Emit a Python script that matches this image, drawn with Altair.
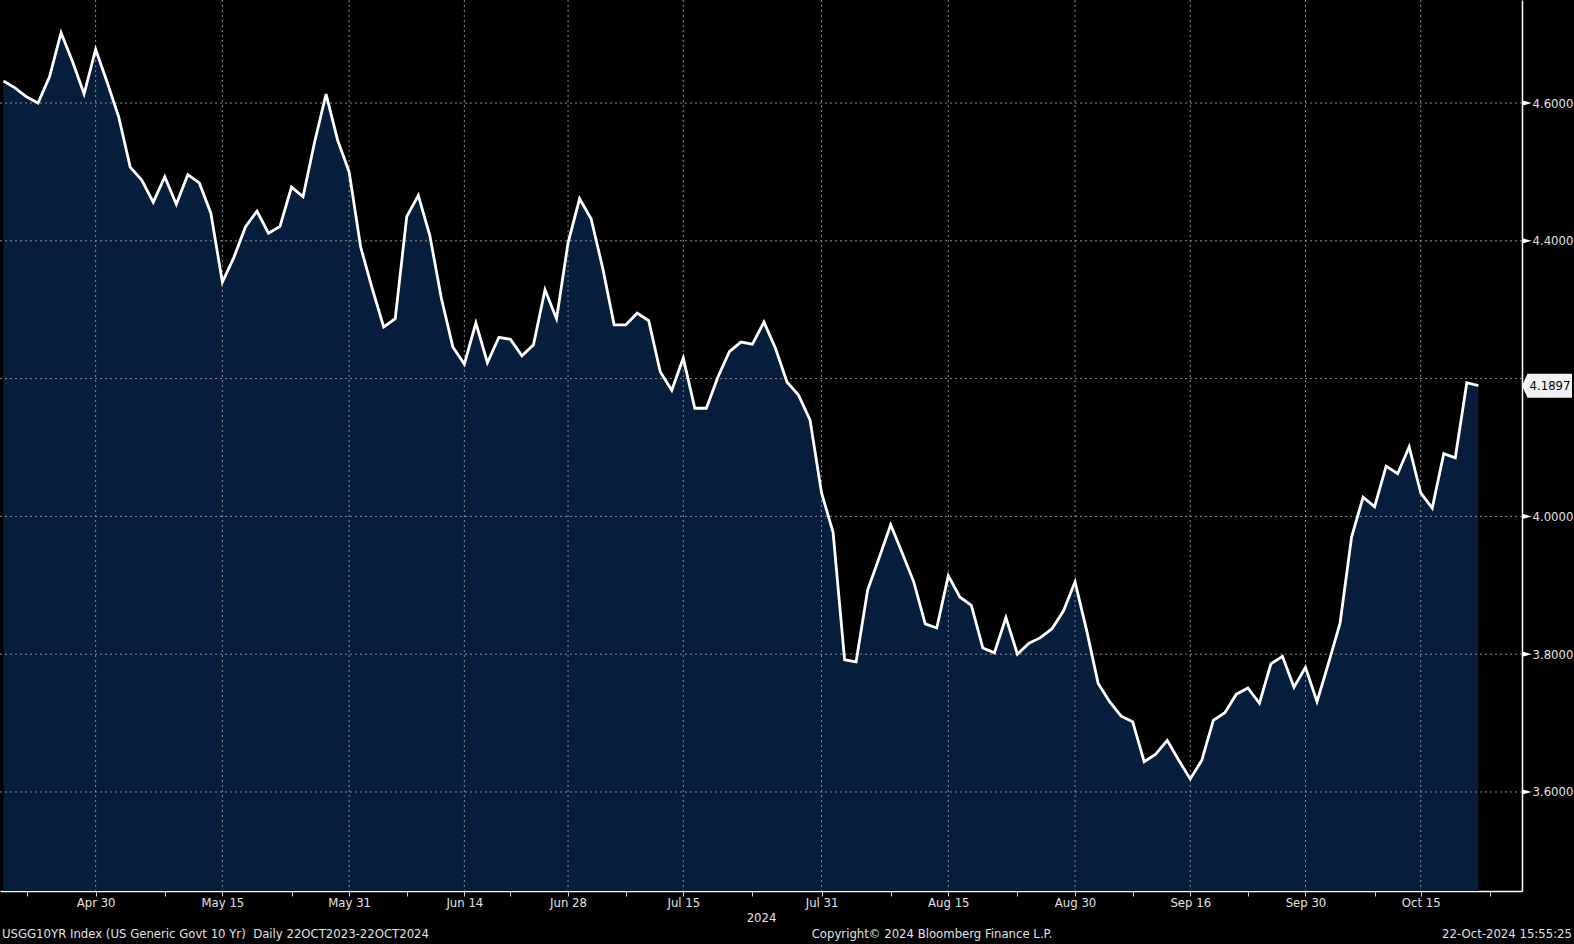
import json
import altair as alt
import pandas as pd

# ---- data (US 10y generic yield, trading days Apr 18 - Oct 22, 2024) ----
YIELDS = [
    4.632, 4.622, 4.609, 4.600, 4.638, 4.702, 4.660, 4.613, 4.678, 4.630,
    4.580, 4.507, 4.488, 4.456, 4.493, 4.453, 4.496, 4.484, 4.440, 4.340,
    4.376, 4.420, 4.443, 4.411, 4.421, 4.478, 4.464, 4.543, 4.613, 4.546,
    4.500, 4.391, 4.331, 4.275, 4.287, 4.435, 4.466, 4.408, 4.317, 4.246,
    4.221, 4.281, 4.223, 4.260, 4.257, 4.233, 4.249, 4.329, 4.287, 4.397,
    4.461, 4.432, 4.361, 4.278, 4.278, 4.295, 4.284, 4.210, 4.183, 4.230,
    4.157, 4.157, 4.202, 4.239, 4.253, 4.250, 4.282, 4.244, 4.195, 4.176,
    4.140, 4.034, 3.977, 3.792, 3.789, 3.893, 3.940, 3.988, 3.947, 3.905,
    3.844, 3.838, 3.914, 3.883, 3.871, 3.809, 3.802, 3.853, 3.800, 3.816,
    3.824, 3.837, 3.863, 3.905, 3.835, 3.758, 3.731, 3.710, 3.702, 3.644,
    3.655, 3.675, 3.646, 3.619, 3.646, 3.704, 3.715, 3.742, 3.751, 3.729,
    3.786, 3.797, 3.752, 3.781, 3.731, 3.787, 3.845, 3.970, 4.028, 4.014,
    4.073, 4.062, 4.101, 4.034, 4.012, 4.091, 4.085, 4.194, 4.1897,
]

# x axis: trading-day index (0 = Apr 18) of the labelled ticks and of the minor ticks
X_MAJOR_POS = [8, 19, 30, 40, 49, 59, 71, 82, 93, 103, 113, 123]
X_MAJOR_LABELS = ["Apr 30", "May 15", "May 31", "Jun 14", "Jun 28", "Jul 15",
                  "Jul 31", "Aug 15", "Aug 30", "Sep 16", "Sep 30", "Oct 15"]
X_MINOR_POS = [2, 14, 25, 35, 44, 54, 65, 77, 88, 98, 108, 119, 129]
X_DOMAIN = [-0.3, 131.79]

Y_GRID = [3.6, 3.8, 4.0, 4.2, 4.4, 4.6]
Y_LABELED = [3.6, 3.8, 4.0, 4.4, 4.6]
Y_DOMAIN = [3.4563, 4.7495]

LAST_VALUE = 4.1897
X_TITLE = "2024"
FOOT_LEFT = "USGG10YR Index (US Generic Govt 10 Yr)\u00a0 Daily 22OCT2023-22OCT2024"
FOOT_CENTER = "Copyright\u00a9 2024 Bloomberg Finance L.P."
FOOT_RIGHT = "22-Oct-2024 15:55:25"

# ---- styling ----
FONT = '"DejaVu Sans Condensed", "Liberation Sans", sans-serif'
FS = 13
TXT = "#e2e2e2"
NAVY = "#061e3b"
GRID = "#8c8c8c"
W, H = 1522, 891

df = pd.DataFrame({"i": list(range(len(YIELDS))), "y": YIELDS})

xs = alt.Scale(domain=X_DOMAIN, nice=False, zero=False)
ys = alt.Scale(domain=Y_DOMAIN, nice=False, zero=False)

x_label_expr = "indexof({p}, datum.value) >= 0 ? {l}[indexof({p}, datum.value)] : ''".format(
    p=json.dumps(X_MAJOR_POS), l=json.dumps(X_MAJOR_LABELS))
y_label_expr = "indexof({p}, datum.value) >= 0 ? format(datum.value, '.4f') : ''".format(
    p=json.dumps(Y_LABELED))

x_axis = alt.Axis(
    values=X_MAJOR_POS + X_MINOR_POS, labelExpr=x_label_expr, grid=False,
    domainColor="white", domainWidth=1.5, tickColor="#d0d0d0", tickSize=5, tickWidth=1,
    labelColor=TXT, labelFont=FONT, labelFontSize=FS, labelPadding=0,
    labelOverlap=False, labelFlush=False,
    title=X_TITLE, titleColor=TXT, titleFont=FONT, titleFontSize=FS, titleFontWeight="normal",
    titleY=30.5, titleBaseline="alphabetic", titleAlign="center",
)
y_axis = alt.Axis(
    orient="right", values=Y_GRID, labelExpr=y_label_expr, grid=False,
    domainColor="white", domainWidth=1.5, ticks=False, labelPadding=10,
    labelColor=TXT, labelFont=FONT, labelFontSize=FS, labelBaseline="middle", title=None,
)

X = lambda f: alt.X(f, scale=xs, axis=x_axis)
Y = lambda f: alt.Y(f, scale=ys, axis=y_axis)

area = alt.Chart(df).mark_area(color=NAVY, opacity=1, interpolate="linear").encode(
    x=X("i:Q"), y=Y("y:Q"), y2=alt.datum(Y_DOMAIN[0]),
)

grid_h = alt.Chart(pd.DataFrame({"v": Y_GRID})).mark_rule(
    color=GRID, strokeDash=[2, 3], strokeWidth=1).encode(y=Y("v:Q"))
grid_v = alt.Chart(pd.DataFrame({"v": X_MAJOR_POS})).mark_rule(
    color=GRID, strokeDash=[2, 3], strokeWidth=1).encode(x=X("v:Q"))

line = alt.Chart(df).mark_line(color="white", strokeWidth=2.8, interpolate="linear").encode(
    x=X("i:Q"), y=Y("y:Q"),
)

TRI_PATH = "M -1 -0.55 L 1 0 L -1 0.55 Z"
tris = alt.Chart(pd.DataFrame({"v": Y_LABELED})).mark_point(
    shape=TRI_PATH, size=90, filled=True, color="white", opacity=1).encode(
    x=alt.value(W + 5), y=Y("v:Q"))

BOX_PATH = "M -1 0 L -0.78 -0.48 L 1 -0.48 L 1 0.48 L -0.78 0.48 Z"
last_df = pd.DataFrame({"v": [LAST_VALUE], "t": [f"{LAST_VALUE:.4f}"]})
box = alt.Chart(last_df).mark_point(
    shape=BOX_PATH, size=2500, filled=True, color="#f2f2f2", opacity=1).encode(
    x=alt.value(W + 25), y=Y("v:Q"))
box_txt = alt.Chart(last_df).mark_text(
    color="black", font=FONT, fontSize=FS, align="center", baseline="middle").encode(
    x=alt.value(W + 28), y=Y("v:Q"), text="t:N")


def foot(txt, xpos, align):
    return alt.Chart(pd.DataFrame({"t": [txt]})).mark_text(
        color=TXT, font=FONT, fontSize=FS, align=align, baseline="alphabetic").encode(
        x=alt.value(xpos), y=alt.value(938), text="t:N")


chart = alt.layer(
    area, grid_h, grid_v, line, tris, box, box_txt,
    foot(FOOT_LEFT, 2, "left"), foot(FOOT_CENTER, 932, "center"), foot(FOOT_RIGHT, 1572, "right"),
).properties(
    width=W, height=H,
    autosize=alt.AutoSizeParams(type="none"),
    padding={"left": 0, "top": 0, "right": 1574 - W, "bottom": 944 - H},
    background="black",
).configure_view(strokeWidth=0, fill="black")

chart.save("out.html", embed_options={"renderer": "svg", "actions": False})
